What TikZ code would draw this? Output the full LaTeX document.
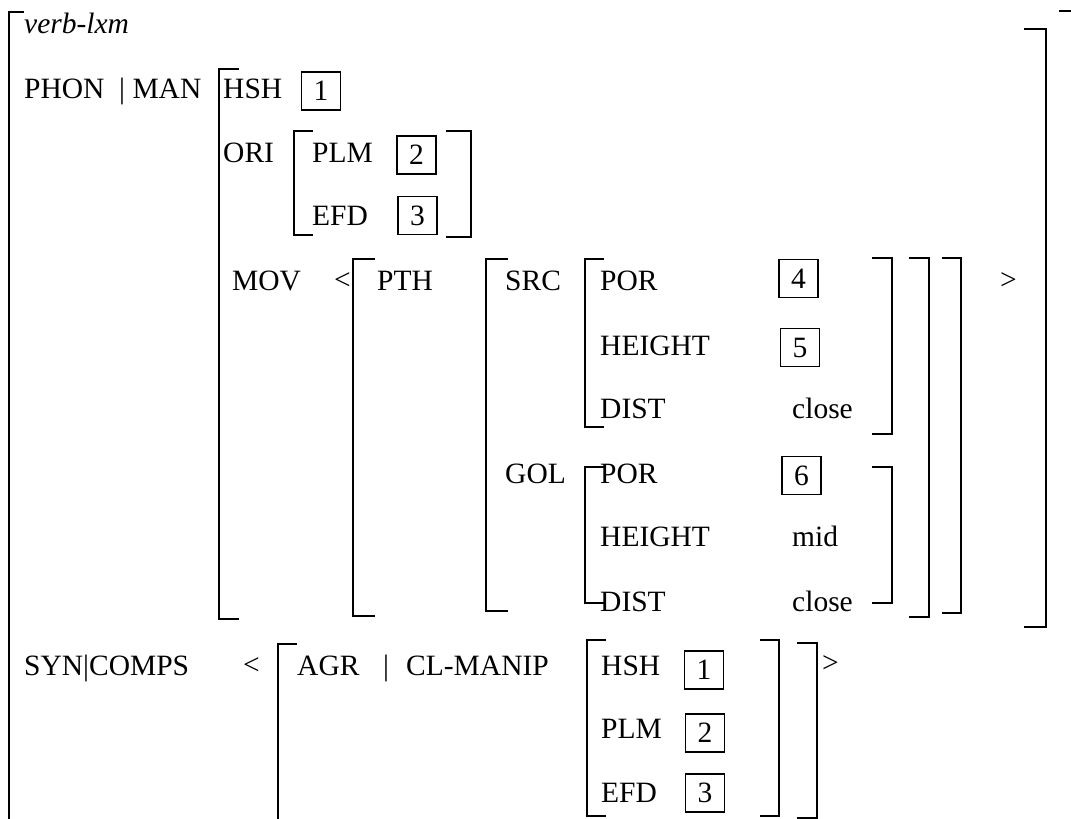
\documentclass[tikz,border=0pt]{standalone}
\usepackage{fontspec}
\setmainfont{Liberation Serif}
\usepackage{tikz}
\usetikzlibrary{positioning}

\begin{document}
\begin{tikzpicture}[
  x=1pt, y=-1pt,
  feat/.style={anchor=base west, inner sep=0pt, font=\fontsize{29.5}{34}\selectfont},
  tag/.style={draw, line width=1.3pt, inner sep=0pt, minimum width=39pt, minimum height=38pt, font=\fontsize{29.5}{34}\selectfont},
  brk/.style={line width=1.8pt}
]
\useasboundingbox (0,0) rectangle (1071,819);

% Outer AVM
\draw[brk] (24,12) -| (9,830);
\draw[brk] (1024,29) -| (1046,627) -- (1024,627);
\draw[brk] (1059,11) -- (1071,11);
\node[feat, font=\fontsize{29.5}{34}\selectfont\itshape] (type) at (24,33) {verb-lxm};

% PHON | MAN
\node[feat] (phon) at (24,98) {PHON~~| MAN};
\draw[brk] (239,69) -| (219,619) -- (239,619);
\node[feat] (hsh) at (223,98) {HSH};
\node[tag] (t1) at (321,91) {1};

\node[feat] (ori) at (223,162) {ORI};
\draw[brk] (313,131) -| (294,235) -- (313,235);
\node[feat] (plm) at (312,162) {PLM};
\node[tag] (t2) at (416.5,155) {2};
\node[feat] (efd) at (312,225) {EFD};
\node[tag] (t3) at (417.5,215.5) {3};
\draw[brk] (446,131) -| (471,237) -- (446,237);

% MOV
\node[feat] (mov) at (232,290) {MOV};
\node[feat] (mopen) at (334,289) {<};
\draw[brk] (375,259) -| (353,616) -- (375,616);
\node[feat] (pth) at (377,290) {PTH};
\draw[brk] (508,259) -| (486,611) -- (508,611);
\node[feat] (src) at (505,290) {SRC};
\node[feat] (gol) at (505,483) {GOL};

% Source
\draw[brk] (604,259) -| (585,427) -- (604,427);
\node[feat] (spor) at (600,290) {POR};
\node[tag] (t4) at (798.5,278.5) {4};
\node[feat] (shgt) at (600,355) {HEIGHT};
\node[tag] (t5) at (800,347.5) {5};
\node[feat] (sdst) at (600,418) {DIST};
\node[feat] (sval) at (792,418) {close};
\draw[brk] (872,258) -| (892,434) -- (872,434);

% Goal
\draw[brk] (604,467) -| (585,603) -- (604,603);
\node[feat] (gpor) at (600,483) {POR};
\node[tag] (t6) at (801.5,475.5) {6};
\node[feat] (ghgt) at (600,546) {HEIGHT};
\node[feat] (gmid) at (792,546) {mid};
\node[feat] (gdst) at (600,611) {DIST};
\node[feat] (gval) at (792,611) {close};
\draw[brk] (872,467) -| (892,603) -- (872,603);

\draw[brk] (909,258) -| (929,617) -- (909,617);
\draw[brk] (942,258) -| (961,613) -- (942,613);
\node[feat] (mclose) at (1000,289) {>};

% SYN|COMPS
\node[feat] (syn) at (24,675) {SYN|COMPS};
\node[feat] (sopen) at (243,674) {<};
\draw[brk] (297,644) -| (278,830);
\node[feat] (agr) at (297,675) {AGR};
\node[feat] (bar) at (383,675) {|};
\node[feat] (clm) at (406,675) {CL-MANIP};
\draw[brk] (606,640) -| (587,816) -- (606,816);
\node[feat] (hsh2) at (601,675) {HSH};
\node[tag] (u1) at (704,670) {1};
\node[feat] (plm2) at (601,738) {PLM};
\node[tag] (u2) at (705,733) {2};
\node[feat] (efd2) at (601,802) {EFD};
\node[tag] (u3) at (705,793) {3};
\draw[brk] (760,640) -| (779,816) -- (760,816);
\draw[brk] (797,643) -| (817,818) -- (797,818);
\node[feat] (sclose) at (822,672) {>};
\end{tikzpicture}
\end{document}
